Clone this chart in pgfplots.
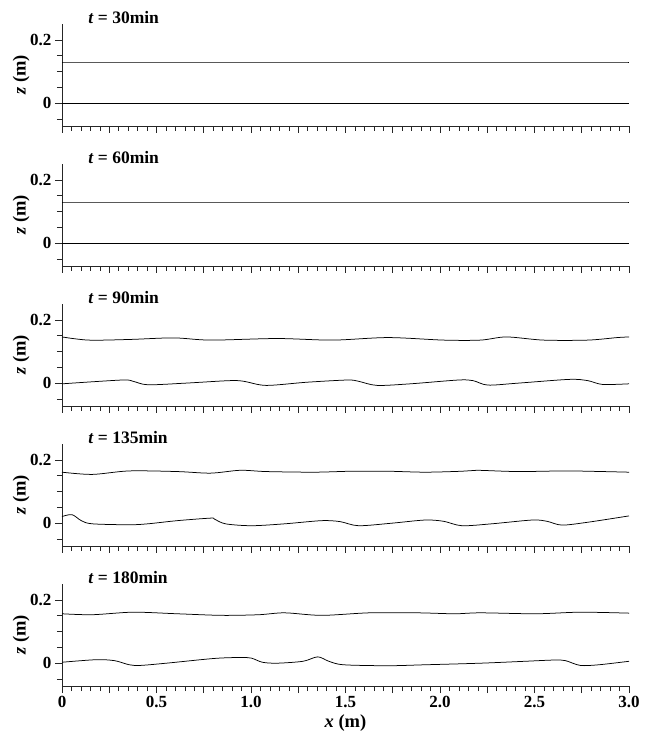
\documentclass[border=0pt]{standalone}
\usepackage{fontspec}
\setmainfont{Liberation Serif}
\usepackage{pgfplots}
\pgfplotsset{compat=1.18}

\pgfplotsset{
  panel/.style={
    scale only axis,
    width=567pt, height=102pt,
    xmin=0, xmax=3, ymin=-0.072, ymax=0.25,
    axis lines=left,
    axis line style={-, line width=0.7pt, black!85},
    clip=false,
    xtick={0,0.25,0.5,0.75,1,1.25,1.5,1.75,2,2.25,2.5,2.75,3},
    minor x tick num=4,
    xticklabels={},
    ytick={0,0.2},
    yticklabels={0,0.2},
    minor ytick={-0.05,0.05,0.1,0.15},
    tick align=outside,
    major tick length=7pt,
    minor tick length=5pt,
    every tick/.style={black!85, line width=0.6pt},
    tick label style={font=\bfseries\fontsize{17}{17}\selectfont},
    ylabel={\textbf{\textit{z} (m)}},
    ylabel style={font=\fontsize{18.5}{18.5}\selectfont, at={(axis description cs:-0.072,0.5)}, anchor=center},
  },
  prof/.style={black, line width=0.75pt, smooth, tension=0.5, mark=none},
}
\newcommand{\paneltitle}[1]{\node[anchor=base west, inner sep=0pt, font=\bfseries\fontsize{17.5}{17.5}\selectfont]
  at (rel axis cs:0.046,1) {\textit{t} = #1min};}

\begin{document}
\begin{tikzpicture}

% t = 30 min
\begin{axis}[panel, at={(0,560pt)}]
\addplot[prof] coordinates {(0,0.13) (3,0.13)};
\addplot[prof] coordinates {(0,0) (3,0)};
\paneltitle{30}
\end{axis}

% t = 60 min
\begin{axis}[panel, at={(0,420pt)}]
\addplot[prof] coordinates {(0,0.13) (3,0.13)};
\addplot[prof] coordinates {(0,0) (3,0)};
\paneltitle{60}
\end{axis}

% t = 90 min
\begin{axis}[panel, at={(0,280pt)}]
\addplot[prof] coordinates {
(0,0.146) (0.141,0.136) (0.356,0.138) (0.591,0.143) (0.786,0.136) (1.138,0.141)
(1.432,0.136) (1.725,0.144) (2.019,0.136) (2.214,0.136) (2.351,0.146) (2.547,0.136)
(2.782,0.136) (2.938,0.144) (3.0,0.146)};
\addplot[prof] coordinates {
(0,-0.002) (0.317,0.010) (0.376,0.006) (0.454,-0.005) (0.649,0.000) (0.884,0.008)
(0.962,0.006) (1.080,-0.007) (1.295,0.003) (1.510,0.010) (1.569,0.006) (1.667,-0.007)
(1.843,-0.002) (2.097,0.010) (2.175,0.008) (2.253,-0.006) (2.410,0.000) (2.684,0.012)
(2.782,0.008) (2.860,-0.004) (3.0,-0.002)};
\paneltitle{90}
\end{axis}

% t = 135 min
\begin{axis}[panel, at={(0,140pt)}]
\addplot[prof] coordinates {
(0,0.161) (0.160,0.154) (0.356,0.165) (0.610,0.163) (0.786,0.158) (0.943,0.167)
(1.080,0.163) (1.334,0.161) (1.530,0.164) (1.725,0.164) (1.921,0.161) (2.116,0.164)
(2.195,0.167) (2.410,0.163) (2.664,0.165) (2.860,0.163) (3.0,0.161)};
\addplot[prof] coordinates {
(0,0.021) (0.053,0.027) (0.102,0.008) (0.160,-0.002) (0.356,-0.005) (0.454,-0.002)
(0.610,0.008) (0.786,0.016) (0.806,0.013) (0.865,-0.002) (1.002,-0.008) (1.178,-0.002)
(1.373,0.008) (1.471,0.005) (1.569,-0.008) (1.745,0.000) (1.921,0.010) (2.019,0.006)
(2.116,-0.008) (2.273,-0.002) (2.488,0.010) (2.566,0.006) (2.645,-0.006) (2.782,0.003)
(3.0,0.023)};
\paneltitle{135}
\end{axis}

% t = 180 min
\begin{axis}[panel, at={(0,0pt)},
  xticklabels={0,,0.5,,1.0,,1.5,,2.0,,2.5,,3.0},
  xlabel={\textbf{\textit{x} (m)}},
  xlabel style={font=\fontsize{18.5}{18.5}\selectfont, at={(axis description cs:0.5,0)}, anchor=base, yshift=-41pt},
]
\addplot[prof] coordinates {
(0,0.156) (0.160,0.153) (0.376,0.161) (0.610,0.156) (0.845,0.151) (1.041,0.153)
(1.178,0.159) (1.373,0.151) (1.627,0.159) (1.882,0.159) (2.077,0.156) (2.214,0.159)
(2.508,0.156) (2.742,0.161) (3.0,0.158)};
\addplot[prof] coordinates {
(0,0.003) (0.180,0.011) (0.278,0.008) (0.356,-0.005) (0.415,-0.007) (0.552,0.000)
(0.806,0.015) (0.943,0.018) (1.002,0.016) (1.060,0.003) (1.138,0.000) (1.275,0.006)
(1.353,0.020) (1.412,0.006) (1.490,-0.005) (1.725,-0.008) (1.921,-0.005) (2.214,0.000)
(2.449,0.006) (2.605,0.010) (2.664,0.008) (2.742,-0.007) (2.840,-0.005) (3.0,0.006)};
\paneltitle{180}
\end{axis}

\path (-62pt,-49pt) rectangle (592pt,686pt);
\end{tikzpicture}
\end{document}
